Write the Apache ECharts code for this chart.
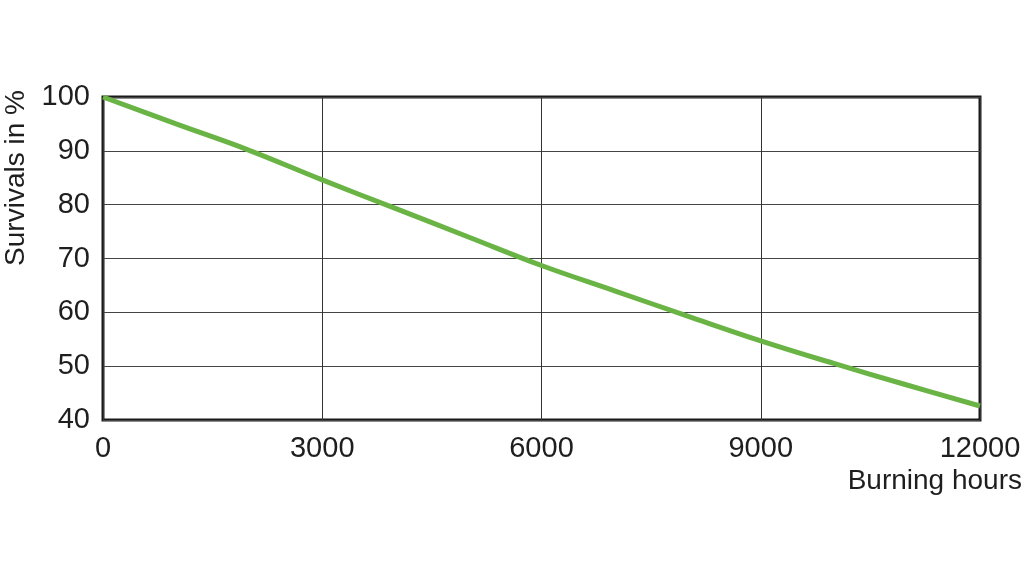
<!DOCTYPE html>
<html><head><meta charset="utf-8">
<script src="https://cdn.jsdelivr.net/npm/echarts@6/dist/echarts.min.js"></script>
<style>html,body{margin:0;padding:0;background:#fff}#c{width:1024px;height:578px}</style>
</head><body><div id="c"></div>
<script>
const hours = [0,1000,2000,3000,4000,5000,6000,7000,8000,9000,10000,11000,12000];
const survivals = [100,95,90.1,84.6,79.3,74,68.7,64,59.3,54.7,50.5,46.5,42.6];
const xTicks = [0,3000,6000,9000,12000];
const yTicks = [40,50,60,70,80,90,100];
const xName = 'Burning hours';
const yName = 'Survivals in %';

const chart = echarts.init(document.getElementById('c'));
const font = 'Liberation Sans, Arial, sans-serif';
const txt = '#1e1e1e';
chart.setOption({
  animation:false,
  grid:{left:103,right:44,top:97,bottom:158,show:true,borderColor:'#1a1a1a',borderWidth:3,backgroundColor:'transparent'},
  xAxis:{type:'value',min:xTicks[0],max:xTicks[xTicks.length-1],interval:3000,
    axisLine:{show:false},axisTick:{show:false},
    splitLine:{show:true,lineStyle:{color:'#333',width:1}},
    axisLabel:{color:txt,fontSize:29,fontFamily:font,margin:14,formatter:v=>String(v)}},
  yAxis:{type:'value',min:yTicks[0],max:yTicks[yTicks.length-1],interval:10,
    axisLine:{show:false},axisTick:{show:false},
    splitLine:{show:true,lineStyle:{color:'#444',width:1}},
    axisLabel:{color:txt,fontSize:29,fontFamily:font,margin:13,formatter:v=>String(v)}},
  graphic:[
    {type:'text',x:1022,y:481,style:{text:xName,fill:txt,font:'28px '+font,textAlign:'right',textVerticalAlign:'middle'}},
    {type:'text',x:16,y:178,rotation:Math.PI/2,style:{text:yName,fill:txt,font:'28px '+font,textAlign:'center',textVerticalAlign:'middle'}}
  ],
  series:[{type:'line',data:hours.map((h,i)=>[h,survivals[i]]),smooth:0.4,showSymbol:false,
    lineStyle:{color:'#6ab445',width:5},z:5}]
});
</script></body></html>
